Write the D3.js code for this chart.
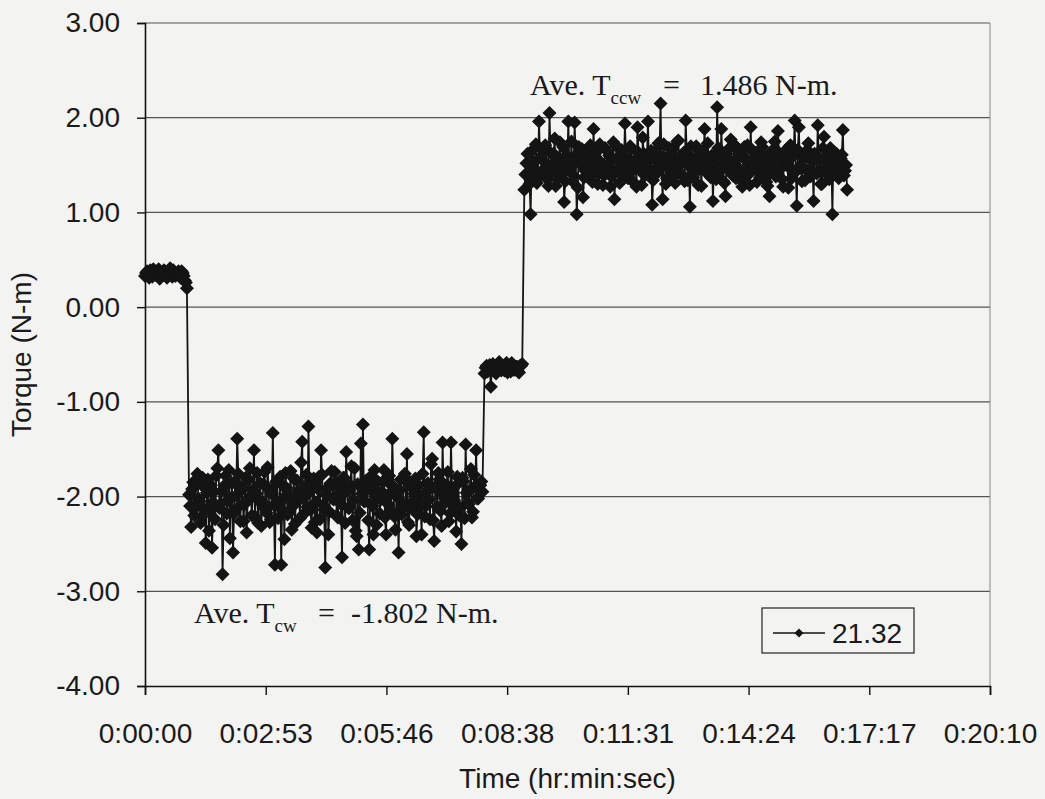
<!DOCTYPE html>
<html>
<head>
<meta charset="utf-8">
<script src="https://cdn.jsdelivr.net/npm/d3@7"></script>
<style>
body { margin: 0; background: #f3f3f1; }
svg { display: block; }
</style>
</head>
<body>
<svg width="1045" height="799"></svg>
<script>
// torque log: readings every 3 s, plus the in-between readings (offset 1.5 s)
var sampleSec = 3;

var idleStart = 0;
var idleTorque = [0.33, 0.38, 0.31, 0.36, 0.40, 0.34, 0.37, 0.30, 0.35, 0.39,
    0.33, 0.36, 0.41, 0.32, 0.37, 0.35, 0.38, 0.31, 0.36, 0.28, 0.20];
var idleTorqueMid = [0.36, 0.34, 0.39, 0.32, 0.37, 0.35, 0.40, 0.33, 0.36, 0.38,
    0.31, 0.37, 0.34, 0.39, 0.33, 0.36, 0.34, 0.38, 0.33, 0.26];

var cwStart = 63;
var cwTorque = [
    -1.98, -2.32, -1.85, -2.12, -1.76, -2.05, -2.21, -1.90, -2.49, -1.82,
    -2.15, -2.54, -1.95, -1.78, -1.51, -2.08, -2.82, -1.88, -2.18, -1.72,
    -2.02, -2.59, -1.84, -1.39, -2.10, -1.93, -2.26, -1.80, -2.04, -1.70,
    -2.20, -1.51, -1.97, -2.28, -1.86, -2.06, -1.74, -2.17, -1.92, -2.24,
    -1.33, -2.72, -1.83, -2.11, -2.72, -1.89, -1.75, -2.19, -1.99, -2.35,
    -1.81, -2.07, -1.94, -2.23, -1.42, -2.01, -1.77, -1.26, -2.14, -1.87,
    -2.27, -2.38, -1.79, -1.51, -2.09, -2.75, -1.91, -2.16, -1.73, -2.03,
    -1.85, -2.22, -1.96, -2.64, -1.80, -1.53, -2.12, -1.88, -2.25, -1.70,
    -2.42, -2.56, -1.44, -1.24, -2.05, -1.93, -2.56, -1.78, -2.40, -2.00,
    -1.84, -2.18, -1.95, -1.72, -2.40, -2.08, -1.87, -1.39, -2.21, -1.97,
    -2.59, -1.82, -2.13, -1.76, -1.55, -2.30, -1.90, -2.06, -1.81, -2.19,
    -1.98, -2.40, -1.32, -2.10, -1.86, -2.24, -1.60, -2.47, -1.92, -1.75,
    -2.15, -1.43, -2.02, -1.88, -2.26, -1.43, -1.96, -2.11, -1.79, -2.20,
    -2.50, -1.84, -1.45, -2.07, -1.93, -2.22, -1.77, -1.51, -2.02, -1.88,
    -1.95];
var cwTorqueMid = [
    -2.10, -1.92, -2.20, -1.84, -2.02, -2.28, -1.80, -2.14, -1.96, -2.36,
    -1.88, -2.06, -2.24, -1.70, -2.12, -1.94, -2.30, -1.78, -2.04, -2.44,
    -1.86, -2.18, -1.99, -1.76, -2.26, -1.90, -2.08, -2.38, -1.82, -2.00,
    -1.93, -2.21, -1.75, -2.05, -2.31, -1.87, -2.13, -1.69, -2.27, -1.97,
    -2.09, -1.85, -2.23, -1.79, -2.03, -2.45, -1.91, -2.16, -1.73, -2.07,
    -2.29, -1.83, -2.01, -1.64, -2.19, -1.89, -2.11, -1.95, -2.33, -1.81,
    -2.06, -1.92, -2.24, -1.77, -2.14, -1.98, -2.40, -1.86, -2.02, -1.74,
    -2.20, -1.90, -2.08, -1.80, -2.28, -1.94, -2.12, -1.68, -2.04, -2.36,
    -1.87, -2.17, -1.97, -2.05, -1.83, -2.25, -1.91, -2.10, -1.72, -2.30,
    -1.96, -2.03, -1.84, -2.22, -1.99, -1.78, -2.15, -1.89, -2.35, -2.01,
    -1.93, -2.19, -1.79, -2.07, -2.27, -1.85, -2.13, -1.97, -2.42, -1.88,
    -2.09, -1.76, -2.21, -1.95, -2.03, -1.66, -2.25, -1.90, -2.11, -1.82,
    -2.31, -1.98, -2.06, -1.74, -2.18, -1.92, -2.04, -2.37, -1.86, -2.12,
    -1.80, -2.23, -1.96, -2.08, -1.71, -2.16, -1.89, -2.02, -1.94, -1.84];

var stopStart = 486;
var stopTorque = [-0.70, -0.62, -0.66, -0.84, -0.60, -0.68, -0.63, -0.58, -0.67, -0.64,
    -0.61, -0.69, -0.65, -0.59, -0.66, -0.63, -0.68, -0.62, -0.60];
var stopTorqueMid = [-0.64, -0.68, -0.61, -0.66, -0.63, -0.70, -0.60, -0.65, -0.62, -0.67,
    -0.59, -0.64, -0.68, -0.61, -0.66, -0.63, -0.69, -0.62];

var ccwStart = 543;
var ccwTorque = [
    1.24, 1.52, 1.38, 0.98, 1.66, 1.45, 1.31, 1.96, 1.58, 1.42,
    1.71, 1.35, 2.05, 1.49, 1.62, 1.28, 1.55, 1.74, 1.40, 1.11,
    1.60, 1.96, 1.47, 1.33, 1.95, 0.98, 1.69, 1.52, 1.16, 1.44,
    1.63, 1.37, 1.58, 1.88, 1.46, 1.30, 1.72, 1.51, 1.39, 1.66,
    1.48, 1.27, 1.57, 1.14, 1.70, 1.43, 1.61, 1.35, 1.94, 1.50,
    1.41, 1.67, 1.32, 1.56, 1.90, 1.45, 1.29, 1.62, 1.49, 1.96,
    1.38, 1.08, 1.64, 1.47, 1.73, 2.15, 1.14, 1.53, 1.36, 1.68,
    1.44, 1.59, 1.31, 1.75, 1.50, 1.40, 1.63, 1.97, 1.34, 1.06,
    1.57, 1.46, 1.70, 1.29, 1.52, 1.65, 1.88, 1.42, 1.55, 1.37,
    1.12, 1.61, 2.11, 1.48, 1.88, 1.33, 1.17, 1.66, 1.51, 1.43,
    1.72, 1.36, 1.58, 1.45, 1.27, 1.69, 1.54, 1.40, 1.90, 1.47,
    1.63, 1.32, 1.56, 1.74, 1.41, 1.60, 1.28, 1.17, 1.52, 1.67,
    1.38, 1.86, 1.49, 1.35, 1.64, 1.50, 1.26, 1.71, 1.44, 1.97,
    1.07, 1.90, 1.47, 1.58, 1.34, 1.66, 1.42, 1.55, 1.12, 1.61,
    1.92, 1.45, 1.30, 1.80, 1.53, 1.39, 1.68, 0.98, 1.49, 1.62,
    1.36, 1.57, 1.87, 1.44, 1.24];
var ccwTorqueMid = [
    1.40, 1.62, 1.30, 1.55, 1.47, 1.72, 1.36, 1.58, 1.44, 1.66,
    1.51, 1.28, 1.63, 1.42, 1.78, 1.35, 1.57, 1.48, 1.69, 1.33,
    1.54, 1.45, 1.75, 1.39, 1.60, 1.26, 1.52, 1.67, 1.37, 1.59,
    1.46, 1.71, 1.32, 1.56, 1.64, 1.41, 1.53, 1.29, 1.68, 1.49,
    1.60, 1.38, 1.74, 1.43, 1.55, 1.31, 1.66, 1.47, 1.58, 1.36,
    1.70, 1.44, 1.52, 1.27, 1.63, 1.50, 1.79, 1.39, 1.57, 1.46,
    1.65, 1.34, 1.55, 1.42, 1.61, 1.48, 1.72, 1.30, 1.59, 1.45,
    1.67, 1.38, 1.53, 1.76, 1.41, 1.58, 1.33, 1.62, 1.49, 1.70,
    1.37, 1.56, 1.44, 1.64, 1.28, 1.54, 1.47, 1.73, 1.40, 1.60,
    1.51, 1.35, 1.68, 1.43, 1.57, 1.31, 1.62, 1.46, 1.77, 1.39,
    1.55, 1.48, 1.66, 1.34, 1.59, 1.42, 1.71, 1.29, 1.53, 1.64,
    1.45, 1.58, 1.37, 1.69, 1.50, 1.32, 1.61, 1.44, 1.56, 1.75,
    1.40, 1.63, 1.47, 1.27, 1.57, 1.52, 1.70, 1.36, 1.60, 1.43,
    1.66, 1.49, 1.33, 1.58, 1.45, 1.73, 1.38, 1.54, 1.62, 1.41,
    1.57, 1.30, 1.68, 1.46, 1.59, 1.35, 1.52, 1.64, 1.42, 1.55,
    1.48, 1.61, 1.39, 1.50];

var yTicks = [3, 2, 1, 0, -1, -2, -3, -4];
var xTickSec = [0, 172.8, 345.6, 518.4, 691.2, 864, 1036.8, 1209.6];
var xTickLabels = ["0:00:00", "0:02:53", "0:05:46", "0:08:38", "0:11:31", "0:14:24", "0:17:17", "0:20:10"];
var seriesName = "21.32";
var aveCw = "-1.802";
var aveCcw = "1.486";

var data = [];
function addPhase(start, values) {
    values.forEach(function (v, i) {
        data.push({t: start + i * sampleSec, v: v});
    });
}
addPhase(idleStart, idleTorque);
addPhase(idleStart + sampleSec / 2, idleTorqueMid);
addPhase(cwStart, cwTorque);
addPhase(cwStart + sampleSec / 2, cwTorqueMid);
addPhase(stopStart, stopTorque);
addPhase(stopStart + sampleSec / 2, stopTorqueMid);
addPhase(ccwStart, ccwTorque);
addPhase(ccwStart + sampleSec / 2, ccwTorqueMid);
data.sort(function (a, b) { return a.t - b.t; });

var plotLeft = 145, plotRight = 990, plotTop = 23, plotBottom = 686;
var sans = "'Liberation Sans', Arial, sans-serif";
var serif = "'Liberation Serif', 'Times New Roman', serif";

var svg = d3.select('svg');

var x = d3.scaleLinear().domain([0, 1209.6]).range([plotLeft, plotRight]);
var y = d3.scaleLinear().domain([-4, 3]).range([plotBottom, plotTop]);

// gridlines
svg.append('g').selectAll('line')
    .data(yTicks.filter(function (d) { return d > -4; }))
    .enter().append('line')
    .attr('x1', plotLeft).attr('x2', plotRight)
    .attr('y1', function (d) { return y(d); })
    .attr('y2', function (d) { return y(d); })
    .attr('stroke', '#555')
    .attr('stroke-width', 1.2);

// right border of plot area
svg.append('line')
    .attr('x1', plotRight).attr('x2', plotRight).attr('y1', plotTop).attr('y2', plotBottom)
    .attr('stroke', '#8a8a8a').attr('stroke-width', 1);

var yAxis = svg.append('g')
    .attr('transform', 'translate(' + plotLeft + ',0)')
    .call(d3.axisLeft(y).tickValues(yTicks).tickSize(8).tickPadding(17)
        .tickFormat(function (d) { return d.toFixed(2); }));

var xAxis = svg.append('g')
    .attr('transform', 'translate(0,' + plotBottom + ')')
    .call(d3.axisBottom(x).tickValues(xTickSec).tickSize(9).tickPadding(28)
        .tickFormat(function (d, i) { return xTickLabels[i]; }));

[yAxis, xAxis].forEach(function (a) {
    a.select('.domain').attr('stroke', '#111').attr('stroke-width', 1.6);
    a.selectAll('.tick line').attr('stroke', '#111').attr('stroke-width', 1.4);
    a.selectAll('text').attr('fill', '#1a1a1a')
        .style('font-family', sans).style('font-size', '28px');
});

// series
var line = d3.line()
    .x(function (d) { return x(d.t); })
    .y(function (d) { return y(d.v); });

svg.append('path')
    .datum(data)
    .attr('d', line)
    .attr('fill', 'none')
    .attr('stroke', '#141414')
    .attr('stroke-width', 1.8);

var diamond = 'M0,-7L7,0L0,7L-7,0Z';
svg.append('g').selectAll('path')
    .data(data)
    .enter().append('path')
    .attr('d', diamond)
    .attr('transform', function (d) { return 'translate(' + x(d.t) + ',' + y(d.v) + ')'; })
    .attr('fill', '#141414');

// axis titles
svg.append('text')
    .attr('x', (plotLeft + plotRight) / 2).attr('y', 788)
    .attr('text-anchor', 'middle')
    .style('font-family', sans).style('font-size', '28px').attr('fill', '#1a1a1a')
    .text('Time (hr:min:sec)');

svg.append('text')
    .attr('transform', 'translate(31,' + (plotTop + plotBottom) / 2 + ') rotate(-90)')
    .attr('text-anchor', 'middle')
    .style('font-family', sans).style('font-size', '28px').attr('fill', '#1a1a1a')
    .text('Torque (N-m)');

// average annotations
function annotate(px, py, sub, value, eqOff, valOff) {
    var t = svg.append('text')
        .attr('x', px).attr('y', py)
        .style('font-family', serif).style('font-size', '30px').attr('fill', '#1a1a1a');
    t.append('tspan').text('Ave. T');
    t.append('tspan').attr('dy', 9).style('font-size', '19px').text(sub);
    t.append('tspan').attr('x', px + eqOff).attr('dy', -9).text('=');
    t.append('tspan').attr('x', px + valOff).text(value + ' N-m.');
}
annotate(194, 623, 'cw', aveCw, 124, 157);
annotate(530, 95, 'ccw', aveCcw, 133, 170);

// legend
var lg = svg.append('g').attr('transform', 'translate(762,608)');
lg.append('rect').attr('width', 152).attr('height', 45)
    .attr('fill', 'none').attr('stroke', '#222').attr('stroke-width', 1.2);
lg.append('line').attr('x1', 11).attr('x2', 63).attr('y1', 25).attr('y2', 25)
    .attr('stroke', '#141414').attr('stroke-width', 1.3);
lg.append('path').attr('d', 'M0,-4.5L4.5,0L0,4.5L-4.5,0Z')
    .attr('transform', 'translate(37,25)').attr('fill', '#141414');
lg.append('text').attr('x', 70).attr('y', 35)
    .style('font-family', sans).style('font-size', '28px').attr('fill', '#1a1a1a')
    .text(seriesName);
</script>
</body>
</html>
